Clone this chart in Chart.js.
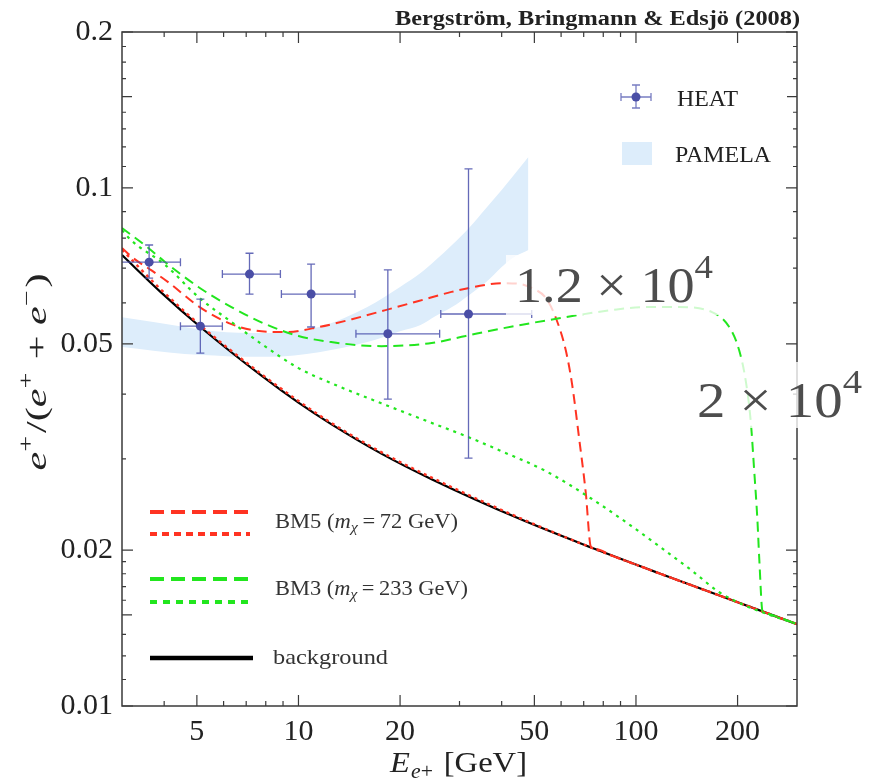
<!DOCTYPE html>
<html>
<head>
<meta charset="utf-8">
<script src="https://cdn.jsdelivr.net/npm/chart.js@4.4.1/dist/chart.umd.min.js"></script>
<style>
  html, body { margin: 0; padding: 0; background: #fff; }
  canvas { display: block; }
</style>
</head>
<body>
<canvas id="chart" width="874" height="782"></canvas>
<script>
// HEAT data points with error bars
const heatE = [3.61, 5.12, 7.16, 10.9, 18.4, 31.9];
const heatFrac = [0.0719, 0.0541, 0.0682, 0.0624, 0.0523, 0.0571];
const heatELo = [2.9, 4.47, 5.95, 8.9, 14.8, 26.4];
const heatEHi = [4.47, 5.95, 8.84, 14.7, 26.2, 49.1];
const heatFracLo = [0.067, 0.048, 0.0624, 0.0539, 0.0391, 0.0301];
const heatFracHi = [0.0776, 0.061, 0.0748, 0.0713, 0.0695, 0.1088];

// PAMELA band
const pamelaE = [3, 4.6, 5.2, 7.2, 8.2, 11.5, 16, 20, 23, 25.5, 28.5, 32, 36, 40, 43, 48];
const pamelaHi = [0.0563, 0.0539, 0.0532, 0.0525, 0.0525, 0.0539, 0.0589, 0.0644, 0.0685, 0.0726, 0.0776, 0.0837, 0.0915, 0.0991, 0.1050, 0.1147];
const pamelaLo = [0.0493, 0.0478, 0.0476, 0.0472, 0.0472, 0.0482, 0.0504, 0.0529, 0.0544, 0.0566, 0.0589, 0.0621, 0.0658, 0.0704, 0.0732, 0.0759];

// background
const bgE = [3, 3.9, 5.12, 7.77, 10, 12.5, 17.6, 24.8, 45, 74, 117, 185, 300];
const bgFrac = [0.0742, 0.0630, 0.0539, 0.0434, 0.0385, 0.0350, 0.0307, 0.0274, 0.0230, 0.0202, 0.01804, 0.01616, 0.01439];

// BM5 (72 GeV)
const bm5DashE = [3, 3.24, 3.66, 4.11, 5.15, 6.33, 7.25, 9.15, 11.5, 14.4, 18.1, 22.7, 28.4, 35.9, 40, 45, 49.1, 54.1, 57.9, 61.9, 64.6, 67.8, 71, 73.5, 76, 85, 100, 117, 185, 300];
const bm5DashFrac = [0.0766, 0.0732, 0.0694, 0.0658, 0.0586, 0.0546, 0.0532, 0.0527, 0.0539, 0.0558, 0.0581, 0.0605, 0.0630, 0.0650, 0.0655, 0.0653, 0.0641, 0.0613, 0.0561, 0.0487, 0.0420, 0.0330, 0.0258, 0.0203, 0.0201, 0.0195, 0.01875, 0.01804, 0.01616, 0.01439];
const bm5DotE = [3, 3.9, 5.12, 7.77, 10, 12.5, 17.6, 24.8, 45, 74, 117, 185, 300];
const bm5DotFrac = [0.0760, 0.0638, 0.0543, 0.0437, 0.0388, 0.0352, 0.0309, 0.0276, 0.0231, 0.0202, 0.01804, 0.01616, 0.01439];

// BM3 (233 GeV)
const bm3DashE = [3, 3.59, 4.03, 5.05, 6.33, 7.98, 10, 12.5, 17.6, 24.8, 31.3, 39.2, 55.2, 84.9, 107, 134, 168, 189, 202, 212, 219, 224, 229, 232, 237, 242, 260, 300];
const bm3DashFrac = [0.0837, 0.0766, 0.0719, 0.0644, 0.0589, 0.0546, 0.0518, 0.0504, 0.0495, 0.0502, 0.0518, 0.0534, 0.0556, 0.0581, 0.0589, 0.0589, 0.0576, 0.0539, 0.0487, 0.0420, 0.0352, 0.0285, 0.02285, 0.01913, 0.01525, 0.0151, 0.01489, 0.01439];
const bm3DotE = [3, 3.19, 4.03, 5.05, 6.33, 7.77, 10, 12.5, 17.6, 24.8, 31.3, 39.2, 54.1, 74, 93.3, 117, 147, 176, 212, 300];
const bm3DotFrac = [0.0829, 0.0793, 0.0710, 0.0616, 0.0551, 0.0500, 0.0449, 0.0420, 0.0384, 0.0352, 0.0332, 0.0312, 0.0284, 0.0251, 0.02265, 0.02036, 0.01822, 0.0166, 0.0156, 0.01439];

// axis ticks
const xMajorTicks = [5, 10, 20, 50, 100, 200];
const xMinorTicks = [4, 6, 7, 8, 9, 30, 40, 60, 70, 80, 90];
const yMajorTicks = [0.01, 0.02, 0.05, 0.1, 0.2];
const yMidTicks = [0.015, 0.15];
const yMinorTicks = [0.01125, 0.0125, 0.01375, 0.016, 0.017, 0.018, 0.019, 0.03, 0.04, 0.06, 0.07, 0.08, 0.09,
  0.11, 0.12, 0.13, 0.14, 0.1625, 0.175, 0.1875];

const RED = '#ff3322';
const GREEN = '#22e61e';
const BAND = '#ddedfb';
const HEATC = '#4a4ea6';
const SERIF = '"Liberation Serif", "Times New Roman", serif';

function pts(xs, ys) {
  return xs.map((v, i) => ({ x: v, y: ys[i] }));
}

// draw a run of text pieces (for sub/superscripts), squeezed to a given width
function drawRich(ctx, parts, x, y, opts) {
  opts = opts || {};
  let w = 0;
  parts.forEach((p) => {
    ctx.font = p.f;
    w += ctx.measureText(p.t).width + (p.gap || 0);
  });
  const s = opts.width ? opts.width / w : 1;
  ctx.save();
  ctx.translate(x, y);
  if (opts.rotate) ctx.rotate(opts.rotate);
  ctx.scale(s, 1);
  let cx = opts.align === 'center' ? -w / 2 : 0;
  ctx.fillStyle = opts.color || '#222';
  ctx.textBaseline = 'alphabetic';
  ctx.textAlign = 'left';
  parts.forEach((p) => {
    ctx.font = p.f;
    ctx.fillText(p.t, cx, p.dy || 0);
    cx += ctx.measureText(p.t).width + (p.gap || 0);
  });
  ctx.restore();
}

function errorCross(ctx, px, py, x0, x1, y0, y1) {
  const c = 4;
  ctx.beginPath();
  ctx.moveTo(x0, py); ctx.lineTo(x1, py);
  ctx.moveTo(x0, py - c); ctx.lineTo(x0, py + c);
  ctx.moveTo(x1, py - c); ctx.lineTo(x1, py + c);
  ctx.moveTo(px, y0); ctx.lineTo(px, y1);
  ctx.moveTo(px - c, y0); ctx.lineTo(px + c, y0);
  ctx.moveTo(px - c, y1); ctx.lineTo(px + c, y1);
  ctx.stroke();
}

const heatBars = {
  id: 'heatBars',
  beforeDatasetDraw(chart, args) {
    if (args.index !== 0) return;
    const { ctx, chartArea: a, scales: { x, y } } = chart;
    ctx.save();
    ctx.beginPath();
    ctx.rect(a.left, a.top, a.right - a.left, a.bottom - a.top);
    ctx.clip();
    ctx.strokeStyle = 'rgba(74, 80, 172, 0.85)';
    ctx.lineWidth = 1.3;
    heatE.forEach((e, i) => {
      errorCross(ctx,
        x.getPixelForValue(e), y.getPixelForValue(heatFrac[i]),
        x.getPixelForValue(heatELo[i]), x.getPixelForValue(heatEHi[i]),
        y.getPixelForValue(heatFracLo[i]), y.getPixelForValue(heatFracHi[i]));
    });
    ctx.restore();
  },
};

const decorations = {
  id: 'decorations',
  afterDraw(chart) {
    const { ctx, chartArea: a, scales: { x, y } } = chart;

    // frame and inward ticks on all four sides
    ctx.save();
    ctx.strokeStyle = '#3a3a3a';
    ctx.lineWidth = 1.5;
    ctx.strokeRect(a.left, a.top, a.right - a.left, a.bottom - a.top);
    ctx.lineWidth = 1.2;
    ctx.beginPath();
    const xt = (v, len) => {
      const px = x.getPixelForValue(v);
      ctx.moveTo(px, a.bottom); ctx.lineTo(px, a.bottom - len);
      ctx.moveTo(px, a.top); ctx.lineTo(px, a.top + len);
    };
    const yt = (v, len) => {
      const py = y.getPixelForValue(v);
      ctx.moveTo(a.left, py); ctx.lineTo(a.left + len, py);
      ctx.moveTo(a.right, py); ctx.lineTo(a.right - len, py);
    };
    xMajorTicks.forEach((v) => xt(v, 11));
    xMinorTicks.forEach((v) => xt(v, 5));
    yMajorTicks.forEach((v) => yt(v, 11));
    yMidTicks.forEach((v) => yt(v, 10));
    yMinorTicks.forEach((v) => yt(v, 4));
    ctx.stroke();
    ctx.restore();

    // title
    drawRich(ctx, [{ t: 'Bergstr\u00f6m, Bringmann & Edsj\u00f6 (2008)', f: 'bold 20px ' + SERIF }],
      395, 25, { width: 405, color: '#222' });

    // axis titles
    const I30 = 'italic 30px ' + SERIF, R30 = '30px ' + SERIF, S20 = '20px ' + SERIF, SI20 = 'italic 20px ' + SERIF;
    drawRich(ctx, [
      { t: 'e', f: I30 }, { t: '+', f: S20, dy: -13, gap: 2 }, { t: '/(', f: R30 },
      { t: 'e', f: I30 }, { t: '+', f: S20, dy: -13, gap: 2 }, { t: ' + ', f: R30 },
      { t: 'e', f: I30 }, { t: '\u2212', f: S20, dy: -13, gap: 2 }, { t: ')', f: R30 },
    ], 46, 372, { rotate: -Math.PI / 2, align: 'center', width: 197 });
    drawRich(ctx, [
      { t: 'E', f: I30, gap: 1 }, { t: 'e', f: SI20, dy: 6 }, { t: '+', f: S20, dy: 6, gap: 10 },
      { t: '[GeV]', f: R30 },
    ], 390, 772, { width: 137 });

    // legend: HEAT and PAMELA
    ctx.save();
    ctx.strokeStyle = 'rgba(74, 80, 172, 0.75)';
    ctx.lineWidth = 1.3;
    errorCross(ctx, 636, 97, 621, 651, 108, 85);
    ctx.fillStyle = HEATC;
    ctx.beginPath();
    ctx.arc(636, 97, 4.5, 0, Math.PI * 2);
    ctx.fill();
    ctx.fillStyle = BAND;
    ctx.fillRect(622, 142, 30, 23);
    ctx.restore();
    drawRich(ctx, [{ t: 'HEAT', f: '24px ' + SERIF }], 677, 106, { width: 61, color: '#222' });
    drawRich(ctx, [{ t: 'PAMELA', f: '24px ' + SERIF }], 675, 162, { width: 96, color: '#222' });

    // legend: model lines
    const legendLine = (yy, color, dash, width, x1) => {
      ctx.save();
      ctx.strokeStyle = color;
      ctx.lineWidth = width;
      ctx.setLineDash(dash);
      ctx.beginPath();
      ctx.moveTo(150, yy);
      ctx.lineTo(x1 || 250, yy);
      ctx.stroke();
      ctx.restore();
    };
    legendLine(512, RED, [14, 7], 4);
    legendLine(534, RED, [7, 5], 4);
    legendLine(579, GREEN, [14, 7], 4);
    legendLine(602, GREEN, [7, 6], 4);
    legendLine(658, '#000', [], 4.5, 253);
    const R21 = '21px ' + SERIF, I21 = 'italic 21px ' + SERIF, I15 = 'italic 15px ' + SERIF;
    drawRich(ctx, [{ t: 'BM5 (', f: R21 }, { t: 'm', f: I21 }, { t: '\u03c7', f: I15, dy: 4 },
      { t: '\u2009=\u200972 GeV)', f: R21 }], 275, 528, { width: 183, color: '#333' });
    drawRich(ctx, [{ t: 'BM3 (', f: R21 }, { t: 'm', f: I21 }, { t: '\u03c7', f: I15, dy: 4 },
      { t: '\u2009=\u2009233 GeV)', f: R21 }], 275, 595, { width: 193, color: '#333' });
    drawRich(ctx, [{ t: 'background', f: R21 }], 273, 664, { width: 115, color: '#333' });

    // cross-section labels on translucent white boxes
    const R50 = '50px ' + SERIF, S34 = '34px ' + SERIF;
    ctx.save();
    ctx.fillStyle = 'rgba(255,255,255,0.78)';
    ctx.fillRect(506, 255, 220, 60);
    ctx.fillRect(698, 362, 172, 66);
    ctx.restore();
    drawRich(ctx, [{ t: '1.2', f: R50 }, { t: ' \u00d7 ', f: R50 }, { t: '10', f: R50 }, { t: '4', f: S34, dy: -24 }],
      515, 302, { width: 198, color: '#4d4d4d' });
    drawRich(ctx, [{ t: '2', f: R50 }, { t: ' \u00d7 ', f: R50 }, { t: '10', f: R50 }, { t: '4', f: S34, dy: -24 }],
      697, 417, { width: 165, color: '#4d4d4d' });
  },
};

const lineStyle = (color, width, dash) => ({
  borderColor: color,
  borderWidth: width,
  borderDash: dash,
  pointRadius: 0,
  fill: false,
  cubicInterpolationMode: 'monotone',
});

new Chart(document.getElementById('chart').getContext('2d'), {
  type: 'line',
  data: {
    datasets: [
      {
        label: 'HEAT',
        data: pts(heatE, heatFrac),
        showLine: false,
        pointRadius: 4.5,
        pointBackgroundColor: HEATC,
        pointBorderWidth: 0,
      },
      { label: 'BM3 dashed', data: pts(bm3DashE, bm3DashFrac), ...lineStyle(GREEN, 2, [10, 6]) },
      { label: 'BM3 dotted', data: pts(bm3DotE, bm3DotFrac), ...lineStyle(GREEN, 2.2, [3, 5]) },
      { label: 'BM5 dashed', data: pts(bm5DashE, bm5DashFrac), ...lineStyle(RED, 2, [10, 6]) },
      { label: 'BM5 dotted', data: pts(bm5DotE, bm5DotFrac), ...lineStyle(RED, 2.4, [3, 4]) },
      { label: 'background', data: pts(bgE, bgFrac), ...lineStyle('#000', 2.2, []) },
      {
        label: 'PAMELA',
        data: pts(pamelaE, pamelaHi),
        borderColor: 'rgba(0,0,0,0)',
        borderWidth: 0,
        pointRadius: 0,
        backgroundColor: BAND,
        fill: '+1',
        cubicInterpolationMode: 'monotone',
      },
      {
        label: 'PAMELA low',
        data: pts(pamelaE, pamelaLo),
        borderColor: 'rgba(0,0,0,0)',
        borderWidth: 0,
        pointRadius: 0,
        fill: false,
        cubicInterpolationMode: 'monotone',
      },
    ],
  },
  options: {
    responsive: false,
    animation: false,
    devicePixelRatio: 1,
    layout: { padding: { top: 32, right: 77, left: 0, bottom: 0 } },
    plugins: { legend: { display: false }, tooltip: { enabled: false } },
    scales: {
      x: {
        type: 'logarithmic',
        min: 3,
        max: 300,
        afterBuildTicks: (s) => { s.ticks = xMajorTicks.map((v) => ({ value: v })); },
        afterFit: (s) => { s.height = 76; },
        grid: { display: false, drawTicks: false },
        border: { display: false },
        ticks: {
          autoSkip: false,
          maxRotation: 0,
          padding: 8,
          color: '#222',
          font: { family: SERIF, size: 30 },
          callback: (v) => String(v),
        },
      },
      y: {
        type: 'logarithmic',
        min: 0.01,
        max: 0.2,
        afterBuildTicks: (s) => { s.ticks = yMajorTicks.map((v) => ({ value: v })); },
        afterFit: (s) => { s.width = 122; },
        grid: { display: false, drawTicks: false },
        border: { display: false },
        ticks: {
          autoSkip: false,
          padding: 9,
          color: '#222',
          font: { family: SERIF, size: 30 },
          callback: (v) => String(v),
        },
      },
    },
  },
  plugins: [heatBars, decorations],
});
</script>
</body>
</html>
